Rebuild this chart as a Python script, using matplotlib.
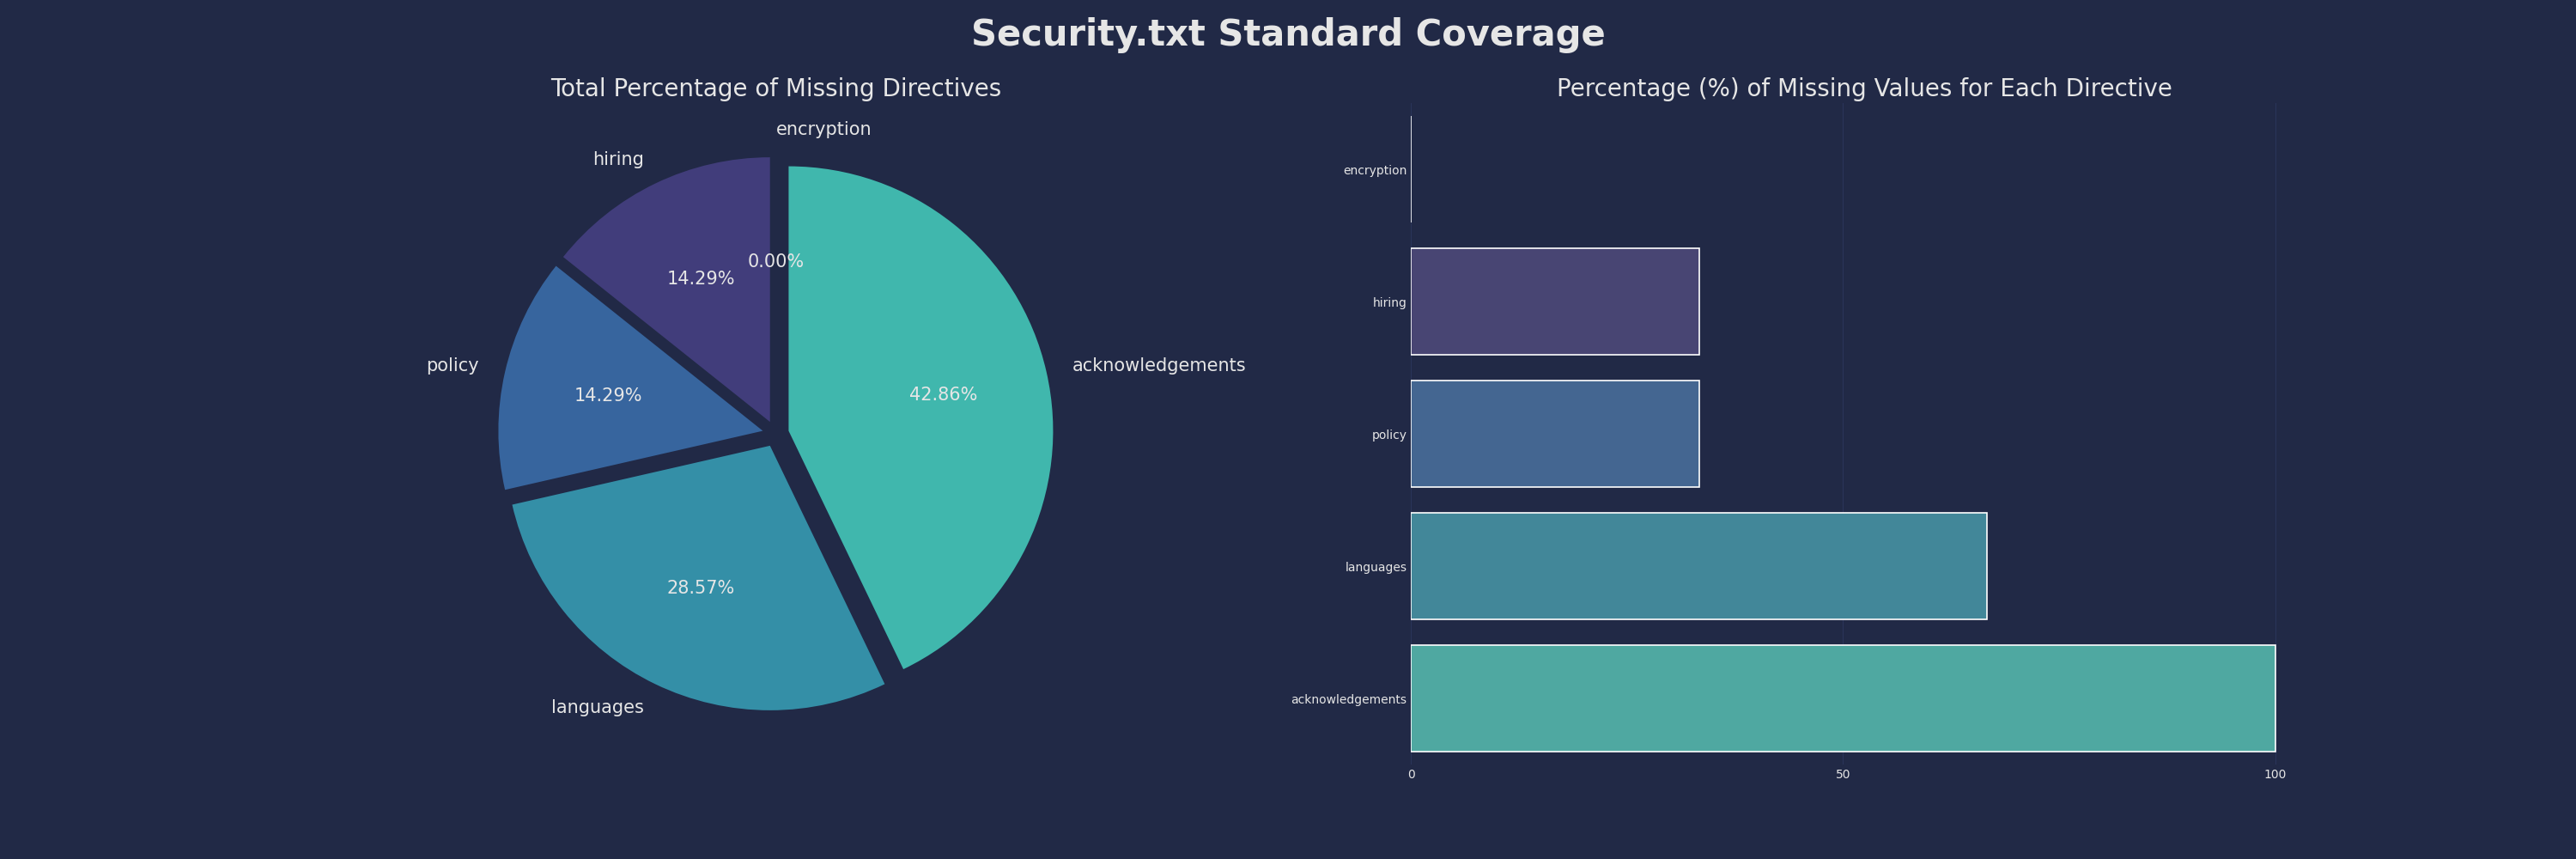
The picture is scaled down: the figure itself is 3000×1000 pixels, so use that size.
import colorsys

import matplotlib
matplotlib.use("Agg")
import matplotlib.pyplot as plt
from matplotlib.colors import to_rgb


BG = "#212946"
TEXT = "0.9"
GRID = "#2A3459"

# directives, in the order they are drawn (pie counter-clockwise from top, bars top to bottom)
directives = ["encryption", "hiring", "policy", "languages", "acknowledgements"]
# share of all missing directives (%)
missing_share = [0.0, 14.29, 14.29, 28.57, 42.86]
# percentage of files missing each directive
missing_pct = [0.0, 33.33, 33.33, 66.67, 100.0]

pie_colors = ["#2e1e3b", "#413d7b", "#37659e", "#348fa7", "#40b7ad"]


def desaturate(color, prop=0.75):
    h, l, s = colorsys.rgb_to_hls(*to_rgb(color))
    return colorsys.hls_to_rgb(h, l, s * prop)


plt.rcParams.update(
    {
        "figure.facecolor": BG,
        "axes.facecolor": BG,
        "axes.edgecolor": BG,
        "savefig.facecolor": BG,
        "text.color": TEXT,
        "axes.labelcolor": TEXT,
        "xtick.color": TEXT,
        "ytick.color": TEXT,
        "grid.color": GRID,
    }
)

fig, (ax_pie, ax_bar) = plt.subplots(1, 2, figsize=(30, 10), dpi=100)

wedges, labels, pcts = ax_pie.pie(
    missing_share,
    labels=directives,
    colors=pie_colors,
    autopct="%1.2f%%",
    startangle=90,
    explode=[0.05] * len(directives),
    textprops={"fontsize": 15, "color": TEXT},
)
# zero-width wedge sits exactly at the top; keep its label to the right like the original
labels[0].set_ha("left")
ax_pie.set_title("Total Percentage of Missing Directives", fontsize=20, color=TEXT)

bar_colors = [desaturate(c) for c in pie_colors]
ax_bar.barh(
    range(len(directives)),
    missing_pct,
    height=0.8,
    color=bar_colors,
    edgecolor="white",
    linewidth=1.2,
    zorder=2,
)
ax_bar.set_yticks(range(len(directives)))
ax_bar.set_yticklabels(directives)
ax_bar.set_ylim(len(directives) - 0.5, -0.5)
ax_bar.set_xticks([0, 50, 100])
ax_bar.tick_params(length=0, labelsize=10)
ax_bar.grid(axis="x", color=GRID, linewidth=0.8, zorder=0)
ax_bar.set_axisbelow(True)
for side in ax_bar.spines.values():
    side.set_visible(False)
ax_bar.set_title("Percentage (%) of Missing Values for Each Directive", fontsize=20, color=TEXT)

fig.suptitle("Security.txt Standard Coverage", fontsize=30, fontweight="bold", color=TEXT)

fig.savefig("out.png", dpi=100, facecolor=BG)
